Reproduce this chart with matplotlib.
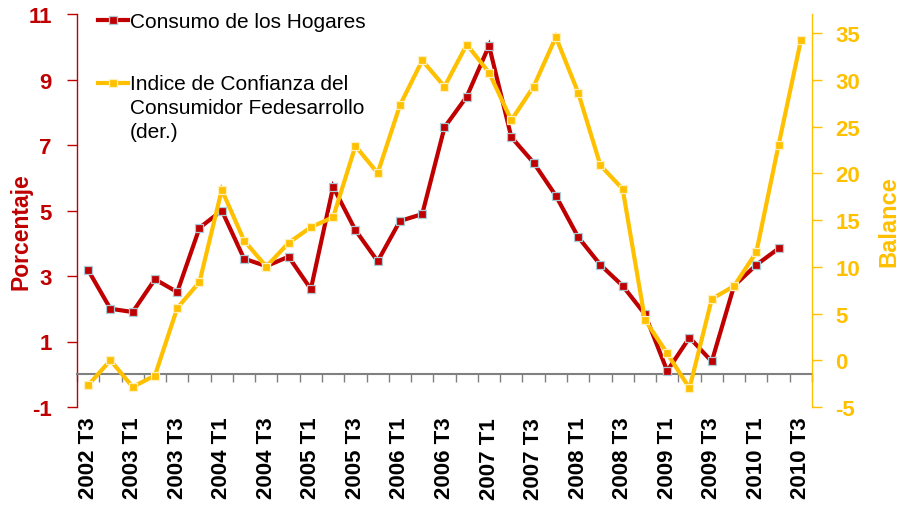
import matplotlib
matplotlib.use('Agg')
import matplotlib.pyplot as plt
import numpy as np
from matplotlib.lines import Line2D
from matplotlib.transforms import blended_transform_factory

plt.rcParams['font.family'] = ['Liberation Sans', 'DejaVu Sans']

quarters = ["2002 T3", "2002 T4", "2003 T1", "2003 T2", "2003 T3", "2003 T4",
            "2004 T1", "2004 T2", "2004 T3", "2004 T4", "2005 T1", "2005 T2",
            "2005 T3", "2005 T4", "2006 T1", "2006 T2", "2006 T3", "2006 T4",
            "2007 T1", "2007 T2", "2007 T3", "2007 T4", "2008 T1", "2008 T2",
            "2008 T3", "2008 T4", "2009 T1", "2009 T2", "2009 T3", "2009 T4",
            "2010 T1", "2010 T2", "2010 T3"]

consumo = [3.18, 2.0, 1.9, 2.9, 2.51, 4.47, 5.0, 3.53, 3.3, 3.59,
           2.6, 5.72, 4.4, 3.45, 4.68, 4.89, 7.54, 8.48, 10.03, 7.24,
           6.46, 5.45, 4.19, 3.34, 2.70, 1.83, 0.1, 1.12, 0.39, 2.70,
           3.34, 3.84]

confianza = [-2.67, 0.0, -2.85, -1.63, 5.59, 8.38, 18.25, 12.82, 10.03, 12.57,
             14.25, 15.32, 22.94, 20.04, 27.3, 32.1, 29.3, 33.8, 30.8, 25.7,
             29.3, 34.6, 28.66, 20.87, 18.33, 4.34, 0.73, -2.99, 6.56, 7.95,
             11.57, 23.05, 34.24]

left_ticks = [-1, 1, 3, 5, 7, 9, 11]
right_ticks = [-5, 0, 5, 10, 15, 20, 25, 30, 35]

RED = '#C00000'
YEL = '#FFC000'
GRAY = '#808080'

W, H = 903, 506
fig = plt.figure(figsize=(W / 100, H / 100), dpi=100)
L, R, T, B = 77, 812, 15, 408
ax = fig.add_axes([L / W, 1 - B / H, (R - L) / W, (B - T) / H])

xi = np.arange(len(quarters))
ax.plot(xi[:len(consumo)], consumo, color=RED, lw=3, marker='s', ms=5.5,
        mfc=RED, mec='#A9CCD6', mew=0.9, zorder=3, solid_joinstyle='miter')
ax.set_xlim(-0.5, len(quarters) - 0.5)
ax.set_ylim(-1, 11)
ax.set_yticks(left_ticks, labels=[str(v) for v in left_ticks], fontweight='bold')
ax.tick_params(axis='y', colors=RED, length=7, width=1, pad=11, labelsize=16)

for s in ['top', 'right']:
    ax.spines[s].set_visible(False)
ax.spines['left'].set_color(RED)
ax.spines['left'].set_linewidth(1)
ax.spines['bottom'].set_position(('data', 0))
ax.spines['bottom'].set_color(GRAY)
ax.spines['bottom'].set_linewidth(1.5)
ax.set_xticks(np.arange(-0.5, len(quarters), 1))
ax.set_xticklabels([])
ax.tick_params(axis='x', direction='out', length=6, width=1, color=GRAY)

trans = blended_transform_factory(ax.transData, ax.transAxes)
for i in range(0, len(quarters), 2):
    ax.text(i, -0.025, quarters[i], transform=trans, rotation=90, ha='center',
            va='top', fontsize=16, fontweight='bold', color='black')

ax.set_ylabel('Porcentaje', color=RED, fontsize=16.5, fontweight='bold')
ax.yaxis.set_label_coords(-0.06, 0.45)

ax2 = ax.twinx()
ax2.plot(xi, confianza, color=YEL, lw=3, marker='s', ms=5.5, mfc=YEL,
         mec='#FFF0C0', mew=0.9, zorder=4, solid_joinstyle='miter')
ax2.set_ylim(-5, 37.07)
ax2.set_yticks(right_ticks, labels=[str(v) for v in right_ticks], fontweight='bold')
ax2.tick_params(axis='y', colors=YEL, length=7, width=1, pad=10, labelsize=16)
for s in ['top', 'left', 'bottom']:
    ax2.spines[s].set_visible(False)
ax2.spines['right'].set_color(YEL)
ax2.spines['right'].set_linewidth(1)
ax2.set_ylabel('Balance', color=YEL, fontsize=17, fontweight='bold', rotation=90)
ax2.yaxis.set_label_coords(1.089, 0.473)

# Legend (manual)
def px(x, y):
    return (x - L) / (R - L), (B - y) / (B - T)

for yline, col, mec, labels in [
        (21, RED, '#A9CCD6', ["Consumo de los Hogares"]),
        (84, YEL, '#FFF0C0', ["Indice de Confianza del", "Consumidor Fedesarrollo", "(der.)"])]:
    x0, y0 = px(98, yline)
    x1, _ = px(128, yline)
    xm, _ = px(113, yline)
    ax2.add_line(Line2D([x0, x1], [y0, y0], transform=ax2.transAxes, color=col,
                        lw=3, clip_on=False))
    ax2.add_line(Line2D([xm], [y0], transform=ax2.transAxes, color=col, marker='s',
                        ms=5.5, mfc=col, mec=mec, mew=0.9, clip_on=False))
    for k, lab in enumerate(labels):
        tx, ty = px(130, yline + 23.5 * k + 1)
        ax2.text(tx, ty, lab, transform=ax2.transAxes, fontsize=15, va='center',
                 ha='left', color='black')

fig.savefig('out.png', dpi=100)
